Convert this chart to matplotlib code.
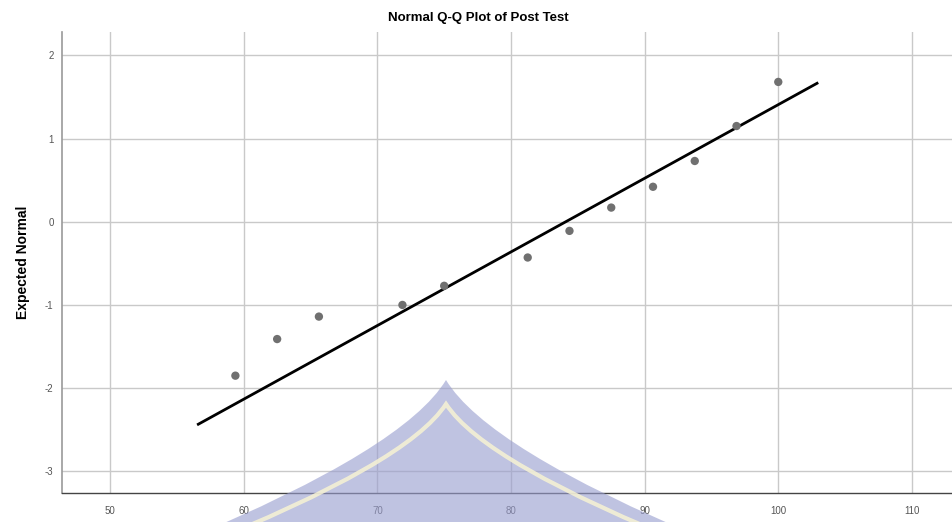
import numpy as np
import matplotlib
matplotlib.use("Agg")
from matplotlib import pyplot as plt
from matplotlib.path import Path
from matplotlib.patches import PathPatch

plt.rcParams['font.family'] = ['Liberation Sans', 'DejaVu Sans']
plt.rcParams['axes.unicode_minus'] = False

# observed post test scores and expected normal values
post_test = [59.375, 62.5, 65.625, 71.875, 75, 81.25, 84.375, 87.5, 90.625, 93.75, 96.875, 100]
expected = [-1.85, -1.41, -1.14, -1.00, -0.77, -0.43, -0.11, 0.17, 0.42, 0.73, 1.15, 1.68]

# reference line  y = (x - mean) / sd
line_mean = 84.1
line_sd = 11.3
line_x = [56.6, 102.9]

x_ticks = [50, 60, 70, 80, 90, 100, 110]
y_ticks = [-3, -2, -1, 0, 1, 2]

fig = plt.figure(figsize=(9.52, 5.22), dpi=100)
ax = fig.add_axes([62 / 952, 29 / 522, 890 / 952, 461 / 522])

ax.set_xlim(46.4, 113.0)
ax.set_ylim(-3.26, 2.28)
ax.set_xticks(x_ticks)
ax.set_yticks(y_ticks)
ax.grid(True, color='#c9c9c9', linewidth=1.0)
ax.set_axisbelow(True)

for s in ['top', 'right']:
    ax.spines[s].set_visible(False)
ax.spines['left'].set_color('#999999')
ax.spines['left'].set_linewidth(1.2)
ax.spines['bottom'].set_color('#444444')
ax.spines['bottom'].set_linewidth(1.0)
ax.tick_params(length=0, labelsize=7, labelcolor='#555555')
ax.tick_params(axis='x', pad=9)
ax.tick_params(axis='y', pad=6)

lx = np.array(line_x)
ax.plot(lx, (lx - line_mean) / line_sd, color='black', linewidth=2.0, zorder=3)
ax.scatter(post_test, expected, s=36, color='#707070', zorder=4, edgecolors='none')

ax.set_ylabel('Expected Normal', fontsize=10, fontweight='bold', labelpad=11)
fig.text(0.502, 0.965, 'Normal Q-Q Plot of Post Test', ha='center', va='center',
         fontsize=9.5, fontweight='bold')


# watermark logo (pixel coordinates of the figure)
def px(pts):
    return [(x / 952, 1 - y / 522) for x, y in pts]


outer = Path(px([(446, 380), (405, 448), (185, 540), (707, 540), (487, 448), (446, 380)]),
             [Path.MOVETO, Path.CURVE3, Path.LINETO, Path.LINETO, Path.CURVE3, Path.LINETO])
stripe = Path(px([(195, 548), (408, 463), (446, 404), (484, 463), (697, 548)]),
              [Path.MOVETO, Path.CURVE3, Path.LINETO, Path.CURVE3, Path.LINETO])
fig.patches.append(PathPatch(outer, transform=fig.transFigure, facecolor=(0.60, 0.62, 0.81),
                             edgecolor='none', alpha=0.62, zorder=10))
fig.patches.append(PathPatch(stripe, transform=fig.transFigure, facecolor='none',
                             edgecolor='#f7f3d4', linewidth=3.0, alpha=0.85, zorder=11))

fig.savefig('out.png', dpi=100)
